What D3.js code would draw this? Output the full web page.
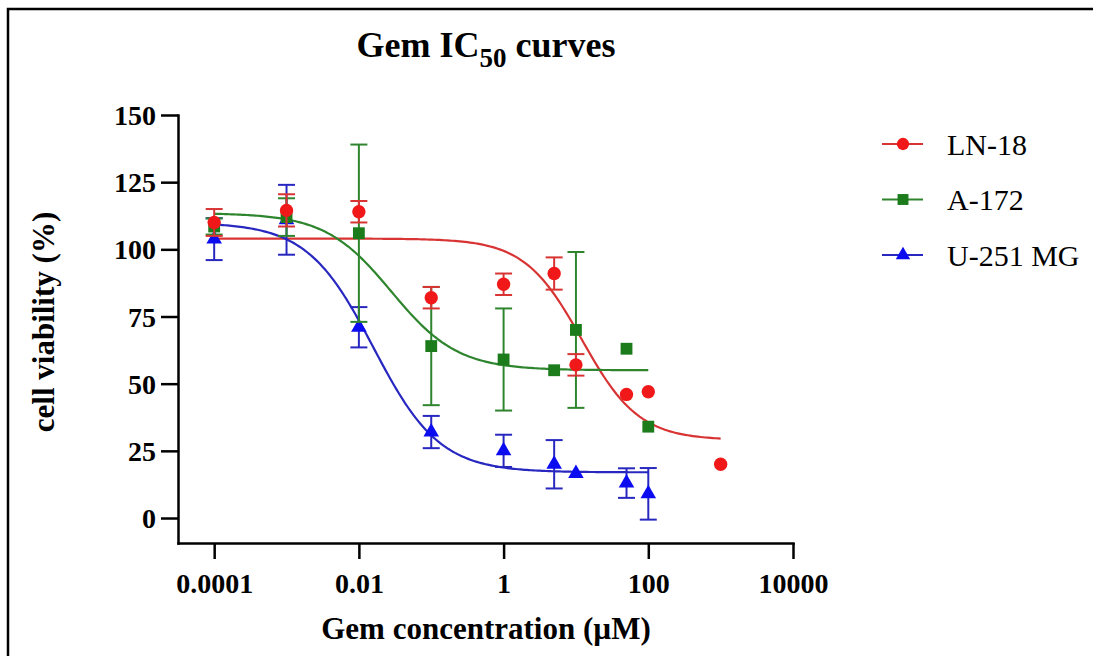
<!DOCTYPE html>
<html lang="en">
	<head>
		<meta charset="UTF-8" />
		<title>Gem IC50 curves</title>
		<style>
			body { margin: 0; background: #fff; }
			text { font-family: "Liberation Serif", "Times New Roman", serif; }
		</style>
	</head>
	<body>
		<div id="chart"></div>
		<script src="https://d3js.org/d3.v7.min.js"></script>
		<script>
			const width = 1093;
			const height = 656;

			// concentrations (uM)
			const concentrations = [0.0001, 0.001, 0.01, 0.1, 1, 5, 10, 50, 100, 1000];

			// mean viability (%) and error (SD) per cell line
			const ln18Mean = [110, 114.5, 114, 82, 87, 91, 57, 46, 47, 20];
			const ln18Err = [5, 6, 4, 4, 4, 6, 4, 0, 0, 0];
			const a172Mean = [108.5, 112, 106, 64, 59, 55, 70, 63, 34, null];
			const a172Err = [3, 7, 33, 22, 19, 0, 29, 0, 0, null];
			const u251Mean = [103.8, 111, 71, 32, 25, 20, 16.6, 13, 9, null];
			const u251Err = [7.8, 13, 7.5, 6, 6, 9, 0, 5.5, 9.6, null];

			// fitted 4PL curves: LN-18, A-172, U-251 MG
			const seriesNames = ["LN-18", "A-172", "U-251 MG"];
			const fitTop = [104, 113.5, 110];
			const fitBottom = [29, 55, 17];
			const fitLogIC50 = [1.08, -1.55, -1.8];
			const fitHill = [1.1, 0.95, 0.95];
			const fitMaxConc = [1000, 100, 100];

			const xTicks = [0.0001, 0.01, 1, 100, 10000];
			const xTickLabels = ["0.0001", "0.01", "1", "100", "10000"];
			const yTicks = [0, 25, 50, 75, 100, 125, 150];

			const markerColors = ["#f01818", "#1c7c1c", "#0c0cf0"];
			const lineColors = ["#d83434", "#2e852e", "#2828c0"];
			const symbols = [d3.symbolCircle, d3.symbolSquare, d3.symbolTriangle];
			const symbolSizes = [140, 140, 105];

			const means = [ln18Mean, a172Mean, u251Mean];
			const errs = [ln18Err, a172Err, u251Err];

			const svg = d3
				.select("#chart")
				.append("svg")
				.attr("width", width)
				.attr("height", height);

			// frame
			svg.append("path")
				.attr("d", "M8,656V9H1093")
				.attr("fill", "none")
				.attr("stroke", "#000")
				.attr("stroke-width", 2.5);

			const x = d3.scaleLog().domain([Math.pow(10, -4.5), 10000]).range([178, 793]);
			const y = d3.scaleLinear().domain([-9.3, 150]).range([543, 115]);

			// axes
			const xAxis = svg.append("g")
				.attr("transform", `translate(0,${y(-9.3)})`)
				.call(
					d3.axisBottom(x)
						.tickValues(xTicks)
						.tickFormat((d, i) => xTickLabels[i])
						.tickSize(16)
						.tickSizeOuter(0)
						.tickPadding(14)
				);
			xAxis.selectAll("text")
				.attr("font-size", 28)
				.attr("font-weight", "bold")
				.attr("fill", "#000");

			const yAxis = svg.append("g")
				.attr("transform", `translate(${x(Math.pow(10, -4.5))},0)`)
				.call(
					d3.axisLeft(y)
						.tickValues(yTicks)
						.tickSize(17)
						.tickSizeOuter(0)
						.tickPadding(5)
				);
			yAxis.selectAll("text")
				.attr("font-size", 28)
				.attr("font-weight", "bold")
				.attr("fill", "#000")
				.attr("dy", "0.34em");

			svg.selectAll(".domain, .tick line")
				.attr("stroke", "#000")
				.attr("stroke-width", 2.5);
			svg.selectAll(".domain").attr("stroke-linecap", "square");

			// titles
			const title = svg.append("text")
				.attr("x", 486)
				.attr("y", 57)
				.attr("text-anchor", "middle")
				.attr("font-size", 36)
				.attr("font-weight", "bold");
			title.append("tspan").text("Gem IC");
			title.append("tspan").attr("font-size", 27).attr("dy", 10).text("50");
			title.append("tspan").attr("dy", -10).text(" curves");

			svg.append("text")
				.attr("x", 486)
				.attr("y", 639)
				.attr("text-anchor", "middle")
				.attr("font-size", 31)
				.attr("font-weight", "bold")
				.text("Gem concentration (\u00b5M)");

			svg.append("text")
				.attr("transform", "translate(54,322) rotate(-90)")
				.attr("text-anchor", "middle")
				.attr("font-size", 31)
				.attr("font-weight", "bold")
				.text("cell viability (%)");

			// fitted curves
			const line = d3.line()
				.x((d) => x(d[0]))
				.y((d) => y(d[1]))
				.curve(d3.curveLinear);

			seriesNames.forEach((name, s) => {
				const lo = Math.log10(concentrations[0]);
				const hi = Math.log10(fitMaxConc[s]);
				const pts = d3.range(0, 201).map((k) => {
					const lc = lo + ((hi - lo) * k) / 200;
					const v =
						fitBottom[s] +
						(fitTop[s] - fitBottom[s]) /
							(1 + Math.pow(10, (lc - fitLogIC50[s]) * fitHill[s]));
					return [Math.pow(10, lc), v];
				});
				svg.append("path")
					.datum(pts)
					.attr("d", line)
					.attr("fill", "none")
					.attr("stroke", lineColors[s])
					.attr("stroke-width", 2.2);
			});

			// error bars and markers, last series underneath
			[2, 1, 0].forEach((s) => {
				const data = concentrations
					.map((c, i) => ({ c: c, m: means[s][i], e: errs[s][i] }))
					.filter((d) => d.m !== null);

				const g = svg.append("g");
				const bars = data.filter((d) => d.e > 0);
				const eb = g.selectAll(".eb")
					.data(bars)
					.enter()
					.append("g")
					.attr("stroke", lineColors[s])
					.attr("stroke-width", 2);
				eb.append("line")
					.attr("x1", (d) => x(d.c))
					.attr("x2", (d) => x(d.c))
					.attr("y1", (d) => y(d.m - d.e))
					.attr("y2", (d) => y(d.m + d.e));
				eb.append("line")
					.attr("x1", (d) => x(d.c) - 8.5)
					.attr("x2", (d) => x(d.c) + 8.5)
					.attr("y1", (d) => y(d.m + d.e))
					.attr("y2", (d) => y(d.m + d.e));
				eb.append("line")
					.attr("x1", (d) => x(d.c) - 8.5)
					.attr("x2", (d) => x(d.c) + 8.5)
					.attr("y1", (d) => y(d.m - d.e))
					.attr("y2", (d) => y(d.m - d.e));

				g.selectAll(".pt")
					.data(data)
					.enter()
					.append("path")
					.attr("d", d3.symbol().type(symbols[s]).size(symbolSizes[s]))
					.attr("transform", (d) => `translate(${x(d.c)},${y(d.m)})`)
					.attr("fill", markerColors[s]);
			});

			// legend
			const legend = svg.append("g");
			seriesNames.forEach((name, s) => {
				const ly = 144 + s * 55.5;
				legend.append("line")
					.attr("x1", 882)
					.attr("x2", 923)
					.attr("y1", ly)
					.attr("y2", ly)
					.attr("stroke", lineColors[s])
					.attr("stroke-width", 2.2);
				legend.append("path")
					.attr("d", d3.symbol().type(symbols[s]).size(symbolSizes[s] * 0.85))
					.attr("transform", `translate(903,${ly})`)
					.attr("fill", markerColors[s]);
				legend.append("text")
					.attr("x", 947)
					.attr("y", ly + 10.5)
					.attr("font-size", 30)
					.text(name);
			});
		</script>
	</body>
</html>
